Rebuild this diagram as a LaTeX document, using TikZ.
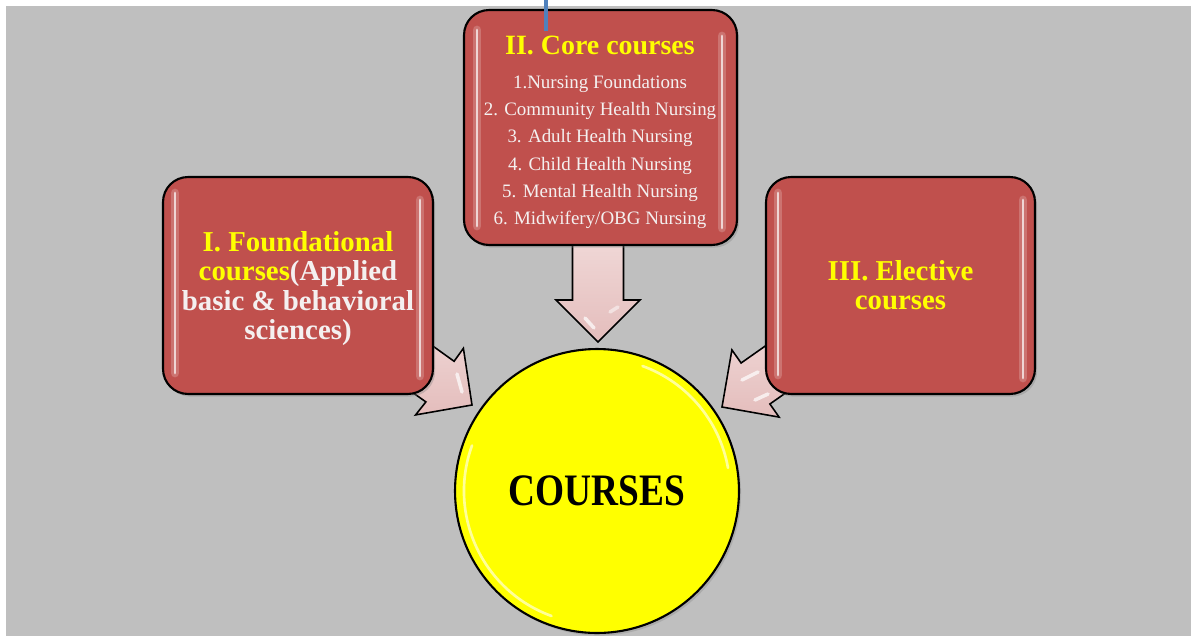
\documentclass[tikz,border=0pt]{standalone}
\usepackage{fontspec}
\setmainfont{Liberation Serif}
\newfontfamily\narrowserif[FakeStretch=0.83]{Liberation Serif}
\usetikzlibrary{shadows}
\definecolor{bggray}{HTML}{BFBFBF}
\definecolor{boxred}{HTML}{C0504D}
\definecolor{titleyellow}{HTML}{FFFF00}
\definecolor{listwhite}{HTML}{F4F0F0}
\definecolor{arrowpink}{HTML}{E4BDBC}
\definecolor{arrowlight}{HTML}{F0D8D7}
\definecolor{lineblue}{HTML}{4F81BD}
\begin{document}
\begin{tikzpicture}[x=0.02cm,y=-0.02cm,
  redbox/.style={draw=black, line width=1.2pt, fill=boxred, rounded corners=0.5cm,
    drop shadow={shadow xshift=1.2pt, shadow yshift=-1.5pt, opacity=0.35}},
  gloss/.style={white, line width=1.6pt, line cap=round, opacity=0.7},
  glow/.style={white, line width=5pt, line cap=round, opacity=0.2},
  blockarrow/.style={draw=black, line width=0.9pt, line join=miter, top color=arrowlight, bottom color=arrowpink},
  streak/.style={white, line width=2pt, line cap=round, opacity=0.7},
  titletext/.style={text=titleyellow, font=\bfseries\fontsize{16.4}{16.8}\selectfont, align=center, inner sep=0pt},
]
\useasboundingbox (0,0) rectangle (1191,636);
\fill[bggray] (6,6) rectangle (1191,636);

% block arrows (behind the boxes)
\coordinate (dtip) at (598,342);
\draw[blockarrow] (572.5,238) -- (572.5,300) -- (556,300) -- (dtip) -- (640,300) -- (623.5,300) -- (623.5,238) -- cycle;
\draw[streak] (585,318) -- (594,328);
\draw[streak,opacity=0.5] (610,312) -- (618,307);

\coordinate (ltip) at (472,405);
\draw[blockarrow] (368.1,361.1) -- (425.9,401.9) -- (415.6,414.9) -- (ltip) -- (463.4,348.3) -- (454.1,361.3) -- (397.3,320.5) -- cycle;
\draw[streak] (457,374) -- (462,392);

\coordinate (rtip) at (722,407);
\draw[blockarrow] (797.7,323.2) -- (741.1,363.0) -- (731.9,349.9) -- (rtip) -- (779.1,417.1) -- (769.9,404.0) -- (826.5,364.2) -- cycle;
\draw[streak] (742,380) -- (758,372);
\draw[streak] (755,400) -- (768,394);

% boxes
\node[redbox, minimum width=5.46cm, minimum height=4.7cm] (core) at (600.5,127.5) {};
\node[redbox, minimum width=5.4cm, minimum height=4.34cm] (found) at (298,285.5) {};
\node[redbox, minimum width=5.38cm, minimum height=4.34cm] (elect) at (900.5,285.5) {};

% gloss highlights
\foreach \x/\ya/\yb in {477/30/226, 722/36/228, 175/193/373, 420/200/376, 778/193/375, 1023/200/378}{
  \draw[glow] (\x,\ya) -- (\x,\yb);
  \draw[gloss] (\x,\ya) -- (\x,\yb);
}

% stray blue line
\coordinate (bluetop) at (546,0);
\coordinate (bluebot) at (546,31);
\draw[lineblue, line width=2.3pt] (bluetop) -- (bluebot);

% texts
\node[anchor=north, inner sep=0pt, align=center, text=listwhite,
      font=\fontsize{10.8}{15.5}\selectfont] (coretext) at (600,36)
  {{\color{titleyellow}\bfseries\fontsize{15.9}{15.5}\selectfont II. Core courses}\\[3.6pt]
   1.Nursing Foundations\\
   2. Community Health Nursing\\
   3. Adult Health Nursing\\
   4. Child Health Nursing\\
   5. Mental Health Nursing\\
   6. Midwifery/OBG Nursing};

\node[titletext, anchor=north] (foundtext) at (298,231)
  {I. Foundational\\
   courses{\color{listwhite}(Applied}\\
   {\color{listwhite}basic \& behavioral}\\
   {\color{listwhite}sciences)}};

\node[titletext, anchor=north] (electtext) at (900.5,260)
  {III. Elective\\ courses};

% center circle
\node[circle, draw=black, line width=1.2pt, fill=titleyellow, minimum size=5.68cm, inner sep=0pt,
      drop shadow={shadow xshift=1.2pt, shadow yshift=-1.5pt, opacity=0.3}] (courses) at (597,491) {};
\draw[white, line width=1.5pt, opacity=0.6, line cap=round] (courses.center) ++(110:133) arc[start angle=110, end angle=200, radius=133];
\draw[white, line width=1.5pt, opacity=0.6, line cap=round] (courses.center) ++(290:133) arc[start angle=290, end angle=350, radius=133];
\node[inner sep=0pt, font=\narrowserif\bfseries\fontsize{25.6}{30}\selectfont] (coursestext) at (courses.center) {COURSES};
\end{tikzpicture}
\end{document}
